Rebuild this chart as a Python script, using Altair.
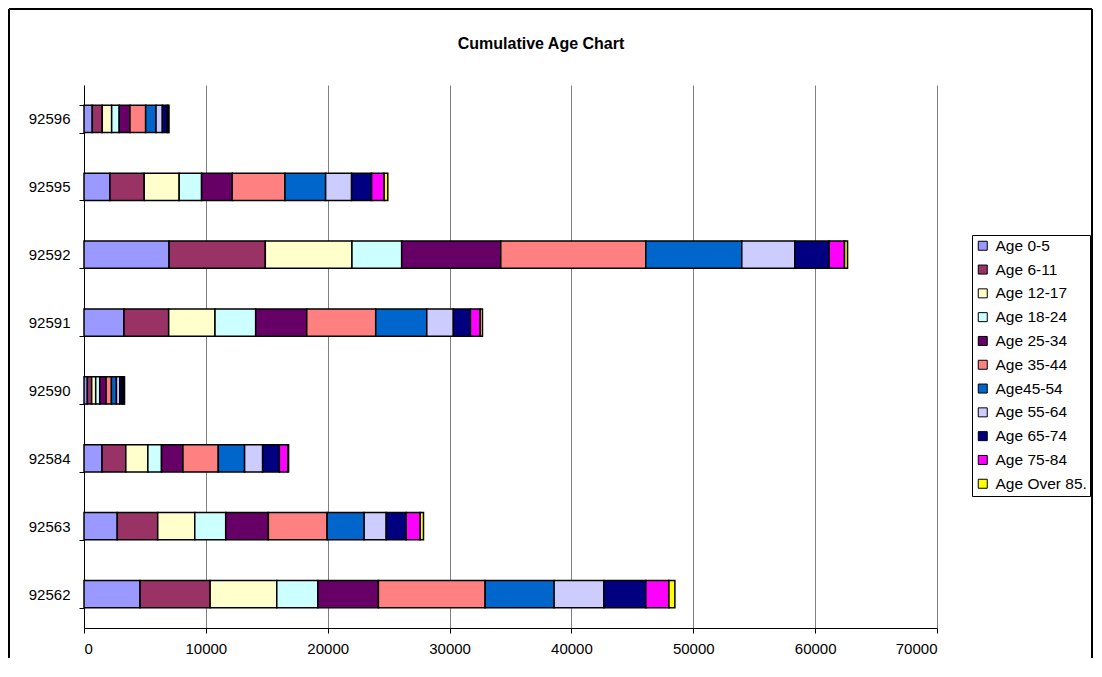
import altair as alt
import pandas as pd

zips = ["92596", "92595", "92592", "92591", "92590", "92584", "92563", "92562"]
ages = ["Age 0-5", "Age 6-11", "Age 12-17", "Age 18-24", "Age 25-34", "Age 35-44",
        "Age45-54", "Age 55-64", "Age 65-74", "Age 75-84", "Age Over 85."]
colors = ["#9999FF", "#993366", "#FFFFCC", "#CCFFFF", "#660066", "#FF8080",
          "#0066CC", "#CCCCFF", "#000080", "#FF00FF", "#FFFF00"]
chart_title = ["Cumulative Age Chart"]

# values per zip, in the order of `zips`
age_0_5 = [680, 2130, 6980, 3280, 275, 1480, 2730, 4600]
age_6_11 = [820, 2810, 7900, 3670, 356, 1950, 3320, 5750]
age_12_17 = [770, 2870, 7110, 3800, 330, 1810, 3040, 5470]
age_18_24 = [620, 1840, 4080, 3340, 330, 1120, 2540, 3370]
age_25_34 = [880, 2510, 8130, 4190, 520, 1760, 3500, 4970]
age_35_44 = [1290, 4330, 11900, 5660, 440, 2900, 4820, 8760]
age_45_54 = [850, 3340, 7880, 4190, 410, 2160, 3040, 5660]
age_55_64 = [520, 2130, 4350, 2180, 275, 1480, 1810, 4080]
age_65_74 = [400, 1640, 2820, 1400, 200, 1370, 1640, 3450]
age_75_84 = [100, 1030, 1260, 800, 130, 700, 1150, 1890]
age_over_85 = [40, 300, 250, 190, 60, 60, 270, 490]

series = [age_0_5, age_6_11, age_12_17, age_18_24, age_25_34, age_35_44,
          age_45_54, age_55_64, age_65_74, age_75_84, age_over_85]
x_ticks = [0, 10000, 20000, 30000, 40000, 50000, 60000, 70000]

rows = []
for i, (age, vals) in enumerate(zip(ages, series)):
    for z, v in zip(zips, vals):
        rows.append({"zip": z, "age": age, "order": i, "value": v})
df = pd.DataFrame(rows)

FONT = "Liberation Sans"

bars = alt.Chart(df).mark_bar(stroke="#000000", strokeWidth=1.5).encode(
    x=alt.X("value:Q", stack="zero",
            scale=alt.Scale(domain=[0, 70000], nice=False),
            axis=alt.Axis(values=x_ticks, format="d", grid=True, gridColor="#808080",
                          gridWidth=1, tickColor="#000000", tickSize=5,
                          labelFontSize=15, labelFont=FONT, labelColor="#000000",
                          labelPadding=8, domainColor="#000000", title=None)),
    y=alt.Y("zip:N", sort=zips,
            scale=alt.Scale(paddingInner=0.6, paddingOuter=0.3),
            axis=alt.Axis(tickBand="extent", grid=False, tickColor="#000000",
                          tickSize=5, labelFontSize=15, labelFont=FONT,
                          labelColor="#000000", labelPadding=9,
                          domainColor="#000000", title=None)),
    color=alt.Color("age:N", scale=alt.Scale(domain=ages, range=colors),
                    legend=alt.Legend(title=None, orient="none", legendX=888, legendY=150,
                                      strokeColor="#000000", padding=3, fillColor="#FFFFFF",
                                      symbolType="square", symbolSize=81,
                                      symbolStrokeColor="#000000", symbolStrokeWidth=1,
                                      labelFontSize=15.5, labelFont=FONT, labelColor="#000000",
                                      rowPadding=6.8, labelOffset=5)),
    order=alt.Order("order:Q", sort="ascending"),
)

one = pd.DataFrame({"k": [0]})
left = alt.Chart(one).mark_rule(color="#000000", strokeWidth=2).encode(
    x=alt.value(-75), y=alt.value(-76), y2=alt.value(600))
top = alt.Chart(one).mark_rule(color="#000000", strokeWidth=2).encode(
    x=alt.value(-75), x2=alt.value(1008), y=alt.value(-76))
right = alt.Chart(one).mark_rule(color="#000000", strokeWidth=2).encode(
    x=alt.value(1008), y=alt.value(-76), y2=alt.value(600))

title = alt.Chart(pd.DataFrame({"t": chart_title})).mark_text(
    font=FONT, fontSize=16, fontWeight="bold", color="#000000",
    align="center", baseline="alphabetic").encode(
    text="t:N", x=alt.value(457), y=alt.value(-36))

chart = alt.layer(bars, left, top, right, title).properties(
    width=853, height=543,
    autosize=alt.AutoSizeParams(type="none"),
    padding={"left": 76, "top": 77, "right": 157, "bottom": 30},
).configure_view(strokeWidth=0)

chart.save("out.html", embed_options={"renderer": "svg", "actions": False})
